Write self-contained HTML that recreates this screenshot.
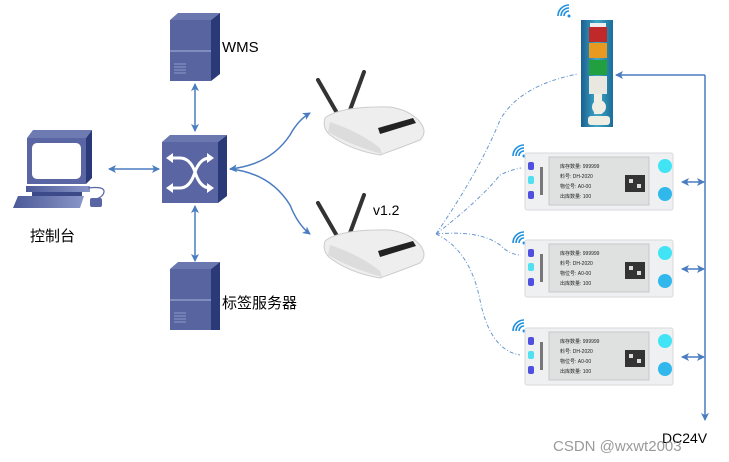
<!DOCTYPE html>
<html><head><meta charset="utf-8"><style>
html,body{margin:0;padding:0;background:#fff;}
svg{display:block;font-family:"Liberation Sans","Noto Sans CJK SC",sans-serif;}
</style></head><body>
<svg width="729" height="462" viewBox="0 0 729 462" xmlns="http://www.w3.org/2000/svg">
<defs>
<marker id="a" markerWidth="8" markerHeight="8" refX="7" refY="4" orient="auto-start-reverse" markerUnits="userSpaceOnUse"><path d="M0,0 L8,4 L0,8 L2,4z" fill="#4a7cc0"/></marker>
<linearGradient id="pc" x1="0" x2="1"><stop offset="0" stop-color="#4c5a98"/><stop offset="1" stop-color="#8a96c8"/></linearGradient>
<linearGradient id="tw" x1="0" x2="1"><stop offset="0" stop-color="#1a5f90"/><stop offset="0.5" stop-color="#3fa8c8"/><stop offset="1" stop-color="#1a6d98"/></linearGradient>
</defs>

<!-- WMS server -->
<g>
<polygon points="170,20 178,13 220,13 211,20" fill="#6b78b0"/>
<polygon points="211,20 220,13 220,74 211,81" fill="#2a3a78"/>
<rect x="170" y="20" width="41" height="61" fill="#5864a0"/>
<line x1="170" y1="51" x2="211" y2="51" stroke="#8e9ac8" stroke-width="1.5"/>
<g stroke="#8e9ac8" stroke-width="1"><line x1="174" y1="64" x2="186" y2="64"/><line x1="174" y1="67" x2="186" y2="67"/><line x1="174" y1="70" x2="186" y2="70"/><line x1="174" y1="73" x2="186" y2="73"/></g>
</g>
<text x="222" y="52" font-size="15" fill="#000">WMS</text>

<!-- bottom server -->
<g>
<polygon points="170,269 178,262 220,262 211,269" fill="#6b78b0"/>
<polygon points="211,269 220,262 220,330 211,330" fill="#2a3a78"/>
<rect x="170" y="269" width="41" height="61" fill="#5864a0"/>
<line x1="170" y1="300" x2="211" y2="300" stroke="#8e9ac8" stroke-width="1.5"/>
<g stroke="#8e9ac8" stroke-width="1"><line x1="174" y1="313" x2="186" y2="313"/><line x1="174" y1="316" x2="186" y2="316"/><line x1="174" y1="319" x2="186" y2="319"/><line x1="174" y1="322" x2="186" y2="322"/></g>
</g>
<text x="222" y="308" font-size="15" fill="#000">标签服务器</text>

<!-- switch -->
<g>
<polygon points="162,142 170,135 227,135 218,142" fill="#6b78b0"/>
<polygon points="218,142 227,135 227,196 218,203" fill="#2a3a78"/>
<rect x="162" y="142" width="56" height="61" fill="#5a66a4"/>
<g stroke="#fff" stroke-width="3" fill="none">
<path d="M170,158 L180,158 Q190,158 195,172 Q200,188 210,188"/>
<path d="M170,188 L180,188 Q190,188 195,172 Q200,158 210,158"/>
</g>
<g fill="#fff"><polygon points="166,158 173,153 173,163"/><polygon points="214,158 207,153 207,163"/><polygon points="166,188 173,183 173,193"/><polygon points="214,188 207,183 207,193"/></g>
</g>

<!-- computer -->
<g>
<polygon points="27,138 33,130 92,130 86,138" fill="#6e7ab2"/>
<polygon points="86,138 92,130 92,178 86,184" fill="#2a3a78"/>
<rect x="27" y="138" width="59" height="46" fill="#5a66a4"/>
<rect x="32" y="143" width="49" height="36" rx="5" fill="#fff"/>
<polygon points="26,186 90,186 90,192 26,192" fill="url(#pc)"/>
<polygon points="32,192 82,192 82,196 32,196" fill="#3c4a8a"/>
<polygon points="18,196 84,196 80,208 13,208" fill="url(#pc)"/>
<path d="M88,188 Q105,186 104,192 Q103,197 96,199" stroke="#5a66a4" fill="none" stroke-width="1.2"/>
<rect x="90" y="198" width="12" height="9" rx="2" fill="#5a66a4"/>
</g>
<text x="30" y="241" font-size="15" fill="#000">控制台</text>

<!-- connectors -->
<g stroke="#4a7cc0" stroke-width="1.5" fill="none">
<line x1="195" y1="84" x2="195" y2="131" marker-start="url(#a)" marker-end="url(#a)"/>
<line x1="195" y1="206" x2="195" y2="261" marker-start="url(#a)" marker-end="url(#a)"/>
<line x1="109" y1="169" x2="159" y2="169" marker-start="url(#a)" marker-end="url(#a)"/>
<path d="M230,169 Q270,165 290,135 Q298,120 310,113" marker-start="url(#a)" marker-end="url(#a)"/>
<path d="M230,169 Q270,173 290,205 Q298,225 310,234" marker-end="url(#a)"/>
<polyline points="705,75 705,420" marker-end="url(#a)"/>
<polyline points="705,75 616,75" marker-end="url(#a)"/>
<line x1="682" y1="182" x2="704" y2="182" marker-start="url(#a)" marker-end="url(#a)"/>
<line x1="682" y1="269" x2="704" y2="269" marker-start="url(#a)" marker-end="url(#a)"/>
<line x1="682" y1="357" x2="704" y2="357" marker-start="url(#a)" marker-end="url(#a)"/>
</g>

<!-- dashed wireless -->
<g stroke="#6a98d0" stroke-width="1" fill="none" stroke-dasharray="4,2,1,2">
<path d="M436,234 Q480,170 500,120 Q520,85 578,74"/>
<path d="M436,234 Q480,200 500,175 Q510,170 521,168"/>
<path d="M436,234 Q480,230 500,245 Q510,255 521,255"/>
<path d="M436,234 Q470,250 480,300 Q490,350 520,355"/>
</g>

<!-- routers -->
<g id="r1">
<line x1="318" y1="80" x2="337" y2="113" stroke="#333" stroke-width="4" stroke-linecap="round"/>
<line x1="364" y1="72" x2="350" y2="110" stroke="#333" stroke-width="4" stroke-linecap="round"/>
<path d="M325,118 Q340,106 390,107 Q410,110 420,122 Q428,132 420,140 Q400,148 380,155 Q350,150 330,135 Q322,128 325,118z" fill="#eeeeee" stroke="#ccc"/>
<path d="M330,122 Q360,132 380,148 L382,154 Q350,145 328,132z" fill="#dcdcdc"/>
<polygon points="378,128 413,118 416,123 380,134" fill="#222"/>
</g>
<g transform="translate(0,123)">
<line x1="318" y1="80" x2="337" y2="113" stroke="#333" stroke-width="4" stroke-linecap="round"/>
<line x1="364" y1="72" x2="350" y2="110" stroke="#333" stroke-width="4" stroke-linecap="round"/>
<path d="M325,118 Q340,106 390,107 Q410,110 420,122 Q428,132 420,140 Q400,148 380,155 Q350,150 330,135 Q322,128 325,118z" fill="#eeeeee" stroke="#ccc"/>
<path d="M330,122 Q360,132 380,148 L382,154 Q350,145 328,132z" fill="#dcdcdc"/>
<polygon points="378,128 413,118 416,123 380,134" fill="#222"/>
</g>
<text x="373" y="215" font-size="14" fill="#000">v1.2</text>

<!-- tower light -->
<rect x="581" y="20" width="32" height="107" fill="url(#tw)"/>
<rect x="590" y="23" width="16" height="4" fill="#eee"/>
<rect x="589" y="27" width="18" height="15" fill="#c0282a"/>
<rect x="589" y="43" width="18" height="15" fill="#e89a20"/>
<rect x="589" y="60" width="18" height="15" fill="#22a040"/>
<rect x="589" y="76" width="18" height="18" fill="#e8e8e0"/>
<rect x="594" y="94" width="8" height="20" fill="#efeee4"/>
<circle cx="599" cy="107" r="7" fill="#efeee4"/>
<rect x="588" y="116" width="22" height="9" rx="3" fill="#efeee4"/>
<!-- wifi icons -->
<g fill="none" stroke="#1d8fe0" stroke-width="1.6">
<g transform="translate(569,16)"><circle cx="0" cy="0" r="1.5" fill="#1d8fe0" stroke="none"/><path d="M-5,0 A5,5 0 0 1 0,-5"/><path d="M-8,0 A8,8 0 0 1 0,-8"/><path d="M-11,0 A11,11 0 0 1 0,-11"/></g>
<g transform="translate(524,156)"><circle cx="0" cy="0" r="1.5" fill="#1d8fe0" stroke="none"/><path d="M-5,0 A5,5 0 0 1 0,-5"/><path d="M-8,0 A8,8 0 0 1 0,-8"/><path d="M-11,0 A11,11 0 0 1 0,-11"/></g>
<g transform="translate(524,243)"><circle cx="0" cy="0" r="1.5" fill="#1d8fe0" stroke="none"/><path d="M-5,0 A5,5 0 0 1 0,-5"/><path d="M-8,0 A8,8 0 0 1 0,-8"/><path d="M-11,0 A11,11 0 0 1 0,-11"/></g>
<g transform="translate(524,331)"><circle cx="0" cy="0" r="1.5" fill="#1d8fe0" stroke="none"/><path d="M-5,0 A5,5 0 0 1 0,-5"/><path d="M-8,0 A8,8 0 0 1 0,-8"/><path d="M-11,0 A11,11 0 0 1 0,-11"/></g>
</g>

<!-- tags -->
<g font-size="5" fill="#222">
<g transform="translate(0,0)">
<rect x="525" y="153" width="148" height="57" rx="2" fill="#eef0f2" stroke="#d8dadc"/>
<rect x="549" y="157" width="100" height="48" fill="#dfe1e0" stroke="#c8c8c8"/>
<rect x="528" y="162" width="6" height="8" rx="2" fill="#5050e0"/>
<rect x="528" y="176" width="6" height="8" rx="2" fill="#50e0f0"/>
<rect x="528" y="191" width="6" height="8" rx="2" fill="#5050e0"/>
<rect x="540" y="167" width="3" height="28" fill="#777"/>
<text x="560" y="168">库存数量: 999999</text><text x="560" y="178">料号: DH-2020</text><text x="560" y="188">物位号: A0-00</text><text x="560" y="198">出库数量: 100</text>
<rect x="625" y="175" width="20" height="17" fill="#333"/><rect x="629" y="179" width="4" height="4" fill="#ddd"/><rect x="637" y="184" width="4" height="4" fill="#ddd"/>
<circle cx="665" cy="166" r="7" fill="#40e4f4"/><circle cx="665" cy="194" r="7" fill="#30b8ec"/>
</g>
<g transform="translate(0,87)">
<rect x="525" y="153" width="148" height="57" rx="2" fill="#eef0f2" stroke="#d8dadc"/>
<rect x="549" y="157" width="100" height="48" fill="#dfe1e0" stroke="#c8c8c8"/>
<rect x="528" y="162" width="6" height="8" rx="2" fill="#5050e0"/>
<rect x="528" y="176" width="6" height="8" rx="2" fill="#50e0f0"/>
<rect x="528" y="191" width="6" height="8" rx="2" fill="#5050e0"/>
<rect x="540" y="167" width="3" height="28" fill="#777"/>
<text x="560" y="168">库存数量: 999999</text><text x="560" y="178">料号: DH-2020</text><text x="560" y="188">物位号: A0-00</text><text x="560" y="198">出库数量: 100</text>
<rect x="625" y="175" width="20" height="17" fill="#333"/><rect x="629" y="179" width="4" height="4" fill="#ddd"/><rect x="637" y="184" width="4" height="4" fill="#ddd"/>
<circle cx="665" cy="166" r="7" fill="#40e4f4"/><circle cx="665" cy="194" r="7" fill="#30b8ec"/>
</g>
<g transform="translate(0,175)">
<rect x="525" y="153" width="148" height="57" rx="2" fill="#eef0f2" stroke="#d8dadc"/>
<rect x="549" y="157" width="100" height="48" fill="#dfe1e0" stroke="#c8c8c8"/>
<rect x="528" y="162" width="6" height="8" rx="2" fill="#5050e0"/>
<rect x="528" y="176" width="6" height="8" rx="2" fill="#50e0f0"/>
<rect x="528" y="191" width="6" height="8" rx="2" fill="#5050e0"/>
<rect x="540" y="167" width="3" height="28" fill="#777"/>
<text x="560" y="168">库存数量: 999999</text><text x="560" y="178">料号: DH-2020</text><text x="560" y="188">物位号: A0-00</text><text x="560" y="198">出库数量: 100</text>
<rect x="625" y="175" width="20" height="17" fill="#333"/><rect x="629" y="179" width="4" height="4" fill="#ddd"/><rect x="637" y="184" width="4" height="4" fill="#ddd"/>
<circle cx="665" cy="166" r="7" fill="#40e4f4"/><circle cx="665" cy="194" r="7" fill="#30b8ec"/>
</g>
</g>

<text x="662" y="443" font-size="14" fill="#000">DC24V</text>
<text x="553" y="451" font-size="15" fill="#888" fill-opacity="0.85">CSDN @wxwt2003</text>
</svg>
</body></html>
